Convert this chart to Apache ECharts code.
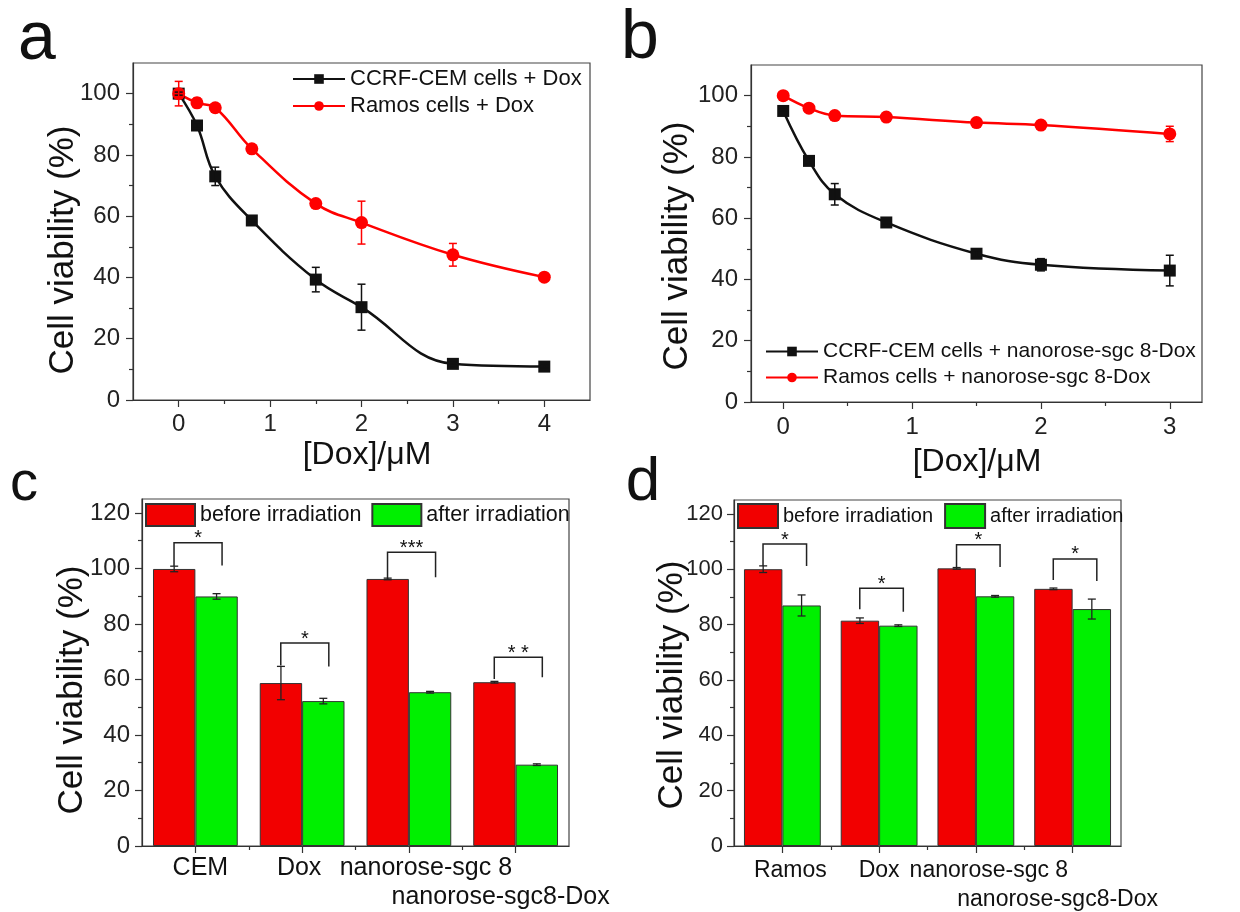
<!DOCTYPE html>
<html><head><meta charset="utf-8">
<script src="https://cdn.jsdelivr.net/npm/echarts@6/dist/echarts.min.js"></script>
<style>html,body{margin:0;padding:0;background:#fff}#chart{width:1240px;height:912px}</style>
</head><body><div id="chart"></div>
<script>
// ---------- data ----------
// panel a
const doseA = [0, 0.2, 0.4, 0.8, 1.5, 2, 3, 4];
const cemDoxA = [100, 89.6, 73, 58.6, 39.3, 30.3, 11.8, 10.9];
const cemDoxErrA = [0.5, 1, 3, 0.5, 4, 7.5, 0.5, 0.5];
const ramosDoxA = [100, 97, 95.4, 82, 64.1, 57.9, 47.4, 40.1];
const ramosDoxErrA = [4, 1.5, 1, 0.5, 0.5, 7, 3.7, 0.5];
// panel b
const doseB = [0, 0.2, 0.4, 0.8, 1.5, 2, 3];
const cemNanoB = [95, 78.7, 67.8, 58.6, 48.4, 44.8, 42.9];
const cemNanoErrB = [0.5, 1, 3.5, 0.5, 1, 2, 5];
const ramosNanoB = [100, 95.9, 93.5, 93, 91.2, 90.4, 87.5];
const ramosNanoErrB = [0.5, 1, 1, 1, 1, 1, 2.5];
// panel c
const catsC = ['CEM', 'Dox', 'nanorose-sgc 8', 'nanorose-sgc8-Dox'];
const beforeC = [99.8, 58.7, 96.2, 59.0];
const beforeErrC = [1, 6, 0.3, 0.3];
const afterC = [89.9, 52.2, 55.4, 29.3];
const afterErrC = [1, 1, 0.3, 0.3];
const sigTopC = [109.2, 73.1, 105.8, 68];
const sigLeftEndC = [100.8, 65, 96.2, 60.2];
const sigRightEndC = [101, 64.7, 96.8, 60.8];
const sigLabelC = ['*', '*', '***', '* *'];
// panel d
const catsD = ['Ramos', 'Dox', 'nanorose-sgc 8', 'nanorose-sgc8-Dox'];
const beforeD = [100, 81.4, 100.3, 92.9];
const beforeErrD = [1.2, 1, 0.3, 0.3];
const afterD = [86.9, 79.6, 90.2, 85.6];
const afterErrD = [3.8, 0.3, 0.3, 3.6];
const sigTopD = [109.1, 93.1, 108.8, 103.7];
const sigLeftEndD = [101.2, 85.5, 100.8, 96.1];
const sigRightEndD = [101.2, 84.6, 100.8, 95.7];
const sigLabelD = ['*', '*', '*', '*'];
// ticks
const ticksDoseA = [0, 1, 2, 3, 4];
const minorDoseA = [0.5, 1.5, 2.5, 3.5];
const ticksDoseB = [0, 1, 2, 3];
const minorDoseB = [0.5, 1.5, 2.5];
const ticksViab = [0, 20, 40, 60, 80, 100];
const minorViab = [10, 30, 50, 70, 90];
const ticksViabBar = [0, 20, 40, 60, 80, 100, 120];
const minorViabBar = [10, 30, 50, 70, 90, 110];
const catBoundaries = [0.5, 1.5, 2.5];

// ---------- styles ----------
const FONT = "'Liberation Sans', Arial, sans-serif";
const AX = '#333';
const RED = '#f20000', GREEN = '#00f000', BLACK = '#111';
const BAR_FRAC = 0.397;
const BR_L = -0.2, BR_R = 0.25;

function mainValAxis(grid, min, max, ticks, pos, fs, margin) {
  return {
    type: 'value', gridIndex: grid, min: min, max: max, position: pos,
    axisLine: {show: true, onZero: false, lineStyle: {color: AX, width: 1.2}},
    axisTick: {show: true, inside: false, length: 7, lineStyle: {color: AX, width: 1.2}, customValues: ticks},
    axisLabel: {show: true, customValues: ticks, fontSize: fs, color: '#222', margin: margin, fontFamily: FONT},
    splitLine: {show: false}
  };
}
function minorAxis(grid, min, max, ticks, pos) {
  return {
    type: 'value', gridIndex: grid, min: min, max: max, position: pos, offset: 0,
    axisLine: {show: false, onZero: false},
    axisTick: {show: true, inside: false, length: 4, lineStyle: {color: AX, width: 1.2}, customValues: ticks},
    axisLabel: {show: false},
    splitLine: {show: false}
  };
}
function catAxis(grid, cats, fs, margin, rich) {
  return {
    type: 'category', gridIndex: grid, data: cats, position: 'bottom',
    axisLine: {show: true, lineStyle: {color: AX, width: 1.2}},
    axisTick: {show: true, alignWithLabel: true, length: 7, lineStyle: {color: AX, width: 1.2}},
    axisLabel: {show: true, interval: 0, margin: margin, fontSize: fs, color: '#111', fontFamily: FONT,
      formatter: (v, i) => '{s' + i + '|' + v + '}', rich: rich},
    splitLine: {show: false}
  };
}
function lineErr(xs, ys, es, xi, yi, color) {
  return {
    type: 'custom', xAxisIndex: xi, yAxisIndex: yi, silent: true, z: 4,
    data: xs.map((x, i) => [x, ys[i] - es[i], ys[i] + es[i]]),
    renderItem: (p, api) => {
      const lo = api.coord([api.value(0), api.value(1)]);
      const hi = api.coord([api.value(0), api.value(2)]);
      const w = 4, st = {stroke: color, lineWidth: 1.5};
      return {type: 'group', children: [
        {type: 'line', shape: {x1: lo[0], y1: lo[1], x2: hi[0], y2: hi[1]}, style: st},
        {type: 'line', shape: {x1: lo[0] - w, y1: lo[1], x2: lo[0] + w, y2: lo[1]}, style: st},
        {type: 'line', shape: {x1: hi[0] - w, y1: hi[1], x2: hi[0] + w, y2: hi[1]}, style: st}
      ]};
    }
  };
}
function barErr(vals, errs, xi, yi, sign) {
  return {
    type: 'custom', xAxisIndex: xi, yAxisIndex: yi, silent: true, z: 5,
    data: vals.map((v, i) => [i, v - errs[i], v + errs[i]]),
    renderItem: (p, api) => {
      const band = api.size([1, 0])[0];
      const dx = sign * band * BAR_FRAC / 2;
      const lo = api.coord([api.value(0), api.value(1)]);
      const hi = api.coord([api.value(0), api.value(2)]);
      const x = lo[0] + dx, w = 4, st = {stroke: '#222', lineWidth: 1.3};
      return {type: 'group', children: [
        {type: 'line', shape: {x1: x, y1: lo[1], x2: x, y2: hi[1]}, style: st},
        {type: 'line', shape: {x1: x - w, y1: lo[1], x2: x + w, y2: lo[1]}, style: st},
        {type: 'line', shape: {x1: x - w, y1: hi[1], x2: x + w, y2: hi[1]}, style: st}
      ]};
    }
  };
}
function brackets(tops, lefts, rights, labels, xi, yi) {
  return {
    type: 'custom', xAxisIndex: xi, yAxisIndex: yi, silent: true, z: 6,
    data: tops.map((t, i) => [i, t, lefts[i], rights[i]]),
    renderItem: (p, api) => {
      const band = api.size([1, 0])[0];
      const cx = api.coord([api.value(0), 0])[0];
      const xl = cx + BR_L * band, xr = cx + BR_R * band;
      const yt = api.coord([api.value(0), api.value(1)])[1];
      const yl = api.coord([api.value(0), api.value(2)])[1];
      const yr = api.coord([api.value(0), api.value(3)])[1];
      return {type: 'group', children: [
        {type: 'polyline', shape: {points: [[xl, yl], [xl, yt], [xr, yt], [xr, yr]]},
          style: {stroke: '#222', lineWidth: 1.5, fill: null}},
        {type: 'text', x: (xl + xr) / 2, y: yt - 4,
          style: {text: labels[p.dataIndex], font: '20px ' + FONT, fill: '#111', align: 'center', verticalAlign: 'middle'}}
      ]};
    }
  };
}
function barSeries(name, vals, xi, yi, color) {
  return {name: name, type: 'bar', xAxisIndex: xi, yAxisIndex: yi, data: vals,
    barWidth: (BAR_FRAC * 100) + '%', barGap: '0%',
    itemStyle: {color: color, borderColor: '#333', borderWidth: 1}, z: 2};
}
function lineSeries(name, xs, ys, xi, yi, color, sym, size) {
  return {name: name, type: 'line', xAxisIndex: xi, yAxisIndex: yi,
    data: xs.map((x, i) => [x, ys[i]]), smooth: 0.4,
    symbol: sym, symbolSize: size, showAllSymbol: true,
    lineStyle: {color: color, width: 2.5}, itemStyle: {color: color}, z: 3};
}
function gtext(x, y, text, size, rot) {
  return {type: 'text', x: x, y: y, rotation: rot || 0,
    style: {text: text, font: size + 'px ' + FONT, fill: '#111', align: 'center', verticalAlign: 'middle'}};
}

const richC = {
  s0: {fontSize: 25, padding: [0, 0, 0, 10]},
  s1: {fontSize: 25, padding: [0, 6, 0, 0]},
  s2: {fontSize: 25, padding: [0, 0, 0, 34]},
  s3: {fontSize: 25, padding: [29, 30, 0, 0]}
};
const richD = {
  s0: {fontSize: 23, padding: [0, 0, 0, 16]},
  s1: {fontSize: 23, padding: [0, 0, 0, 0]},
  s2: {fontSize: 23, padding: [0, 0, 0, 26]},
  s3: {fontSize: 23, padding: [29, 30, 0, 0]}
};

const gridStyle = {show: true, borderColor: '#444', borderWidth: 1.2, backgroundColor: 'transparent', containLabel: false};

const option = {
  animation: false,
  backgroundColor: '#fff',
  textStyle: {fontFamily: FONT},
  grid: [
    Object.assign({left: 133, top: 63, width: 457, height: 337}, gridStyle),
    Object.assign({left: 751, top: 65, width: 451, height: 337}, gridStyle),
    Object.assign({left: 142, top: 499, width: 427, height: 347}, gridStyle),
    Object.assign({left: 734, top: 500, width: 387, height: 346}, gridStyle)
  ],
  xAxis: [
    mainValAxis(0, -0.5, 4.5, ticksDoseA, 'bottom', 24, 12),
    minorAxis(0, -0.5, 4.5, minorDoseA, 'bottom'),
    mainValAxis(1, -0.25, 3.25, ticksDoseB, 'bottom', 24, 13),
    minorAxis(1, -0.25, 3.25, minorDoseB, 'bottom'),
    catAxis(2, catsC, 25, 10, richC),
    minorAxis(2, -0.5, 3.5, catBoundaries, 'bottom'),
    catAxis(3, catsD, 23, 13, richD),
    minorAxis(3, -0.5, 3.5, catBoundaries, 'bottom')
  ],
  yAxis: [
    mainValAxis(0, 0, 110, ticksViab, 'left', 24, 13),
    minorAxis(0, 0, 110, minorViab, 'left'),
    mainValAxis(1, 0, 110, ticksViab, 'left', 24, 13),
    minorAxis(1, 0, 110, minorViab, 'left'),
    mainValAxis(2, 0, 125, ticksViabBar, 'left', 24, 12),
    minorAxis(2, 0, 125, minorViabBar, 'left'),
    mainValAxis(3, 0, 125, ticksViabBar, 'left', 22, 11),
    minorAxis(3, 0, 125, minorViabBar, 'left')
  ],
  legend: [
    {data: ['CCRF-CEM cells + Dox', 'Ramos cells + Dox'], orient: 'vertical', left: 292, top: 68,
      padding: 0, itemGap: 5, itemWidth: 52, itemHeight: 12,
      textStyle: {fontSize: 22, color: '#111', fontFamily: FONT}},
    {data: ['CCRF-CEM cells + nanorose-sgc 8-Dox', 'Ramos cells + nanorose-sgc 8-Dox'], orient: 'vertical', left: 765, top: 341,
      padding: 0, itemGap: 5, itemWidth: 52, itemHeight: 12,
      textStyle: {fontSize: 21, color: '#111', fontFamily: FONT}},
    {data: ['before irradiation', 'after irradiation'], orient: 'horizontal', left: 145, top: 503,
      padding: 0, itemGap: 10, itemWidth: 49, itemHeight: 22, icon: 'rect',
      textStyle: {fontSize: 21.5, color: '#111', fontFamily: FONT}},
    {data: ['before irradiation', 'after irradiation'], orient: 'horizontal', left: 737, top: 503,
      padding: 0, itemGap: 11, itemWidth: 40, itemHeight: 24, icon: 'rect',
      textStyle: {fontSize: 20, color: '#111', fontFamily: FONT}}
  ],
  series: [
    lineSeries('CCRF-CEM cells + Dox', doseA, cemDoxA, 0, 0, BLACK, 'rect', 12),
    lineSeries('Ramos cells + Dox', doseA, ramosDoxA, 0, 0, '#f00', 'circle', 13),
    lineErr(doseA, cemDoxA, cemDoxErrA, 0, 0, BLACK),
    lineErr(doseA, ramosDoxA, ramosDoxErrA, 0, 0, '#f00'),
    lineSeries('CCRF-CEM cells + nanorose-sgc 8-Dox', doseB, cemNanoB, 2, 2, BLACK, 'rect', 12),
    lineSeries('Ramos cells + nanorose-sgc 8-Dox', doseB, ramosNanoB, 2, 2, '#f00', 'circle', 13),
    lineErr(doseB, cemNanoB, cemNanoErrB, 2, 2, BLACK),
    lineErr(doseB, ramosNanoB, ramosNanoErrB, 2, 2, '#f00'),
    barSeries('before irradiation', beforeC, 4, 4, RED),
    barSeries('after irradiation', afterC, 4, 4, GREEN),
    barErr(beforeC, beforeErrC, 4, 4, -1),
    barErr(afterC, afterErrC, 4, 4, 1),
    brackets(sigTopC, sigLeftEndC, sigRightEndC, sigLabelC, 4, 4),
    barSeries('before irradiation', beforeD, 6, 6, RED),
    barSeries('after irradiation', afterD, 6, 6, GREEN),
    barErr(beforeD, beforeErrD, 6, 6, -1),
    barErr(afterD, afterErrD, 6, 6, 1),
    brackets(sigTopD, sigLeftEndD, sigRightEndD, sigLabelD, 6, 6)
  ],
  graphic: [
    gtext(37, 40, 'a', 68),
    gtext(640, 39, 'b', 68),
    gtext(24, 485, 'c', 56),
    gtext(643, 483, 'd', 62),
    gtext(63.5, 250, 'Cell viability (%)', 35, Math.PI / 2),
    gtext(677, 246, 'Cell viability (%)', 35, Math.PI / 2),
    gtext(72.5, 690, 'Cell viability (%)', 35, Math.PI / 2),
    gtext(672, 685, 'Cell viability (%)', 35, Math.PI / 2),
    gtext(367, 455, '[Dox]/μM', 32),
    gtext(977, 462, '[Dox]/μM', 32)
  ]
};
const chart = echarts.init(document.getElementById('chart'), null, {renderer: 'canvas'});
chart.setOption(option);
</script></body></html>
